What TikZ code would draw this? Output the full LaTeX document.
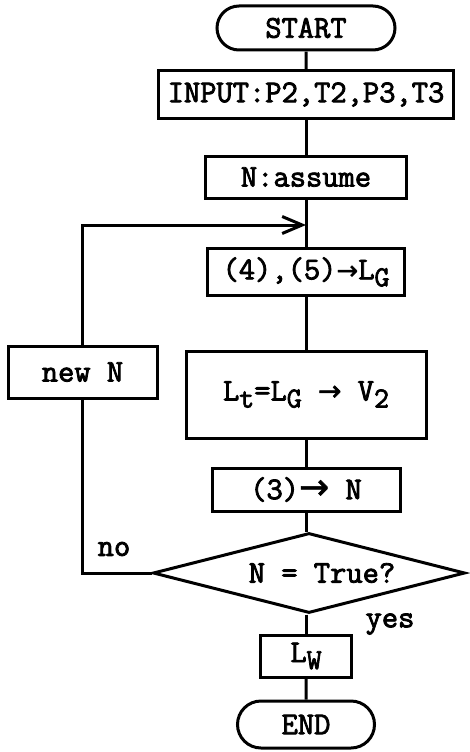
\documentclass[tikz,border=0pt]{standalone}
\usepackage{fontspec}
\setmonofont[FakeBold=2.6]{Latin Modern Mono}
\newfontfamily\arrowfont[FakeBold=1.5]{DejaVu Sans}
\usetikzlibrary{shapes.geometric,shapes.misc,arrows.meta}

% lowered subscript in the typewriter face
\newcommand\lsub[1]{\raisebox{-7pt}{\fontsize{29}{29}\selectfont #1}}
% heavy arrow of a given size
\newcommand\rarr[1]{{\fontsize{#1}{#1}\selectfont\arrowfont →}}

\begin{document}
\begin{tikzpicture}[x=1pt,y=1pt,
  every node/.style={font=\fontsize{31.6}{36}\selectfont\ttfamily, inner sep=0pt},
  box/.style={draw, rectangle, line width=3pt},
  term/.style={draw, rounded rectangle, line width=3pt},
  decision/.style={draw, diamond, line width=3pt, aspect=3.9},
  flow/.style={line width=3pt},
  tag/.style={font=\fontsize{31.6}{36}\selectfont\ttfamily}]
\fill[white] (0,0) rectangle (470,-752);
\useasboundingbox (0,0) rectangle (470,-752);

% main column
\node[term, minimum width=178pt, minimum height=44pt] (start) at (306,-28) {START};
\node[box, minimum width=295pt, minimum height=47pt] (input) at (306,-94.5) {INPUT:P2,T2,P3,T3};
\node[box, minimum width=201pt, minimum height=42pt] (assume) at (306,-177) {N:assume};
\coordinate (join) at (306,-225);
\node[box, minimum width=197pt, minimum height=47pt] (lg) at (306,-272) {(4),(5)\rarr{26}L\lsub{G}};
\node[box, minimum width=240pt, minimum height=87pt] (lt) at (306,-394.5) {L\lsub{t}=L\lsub{G} \rarr{28} V\lsub{2}};
\node[box, minimum width=188pt, minimum height=43pt] (three) at (306,-489.5) {(3)\rarr{36} N};
\node[decision, minimum width=312pt, minimum height=80pt] (dia) at (309,-573) {\hspace*{26pt}N = True?};
\node[box, minimum width=91pt, minimum height=42pt] (lw) at (306,-656) {L\lsub{W}};
\node[term, minimum width=137pt, minimum height=47pt] (end) at (306,-724.5) {END};

% loop-back branch
\node[box, minimum width=149pt, minimum height=52pt] (newN) at (82.5,-372) {new N};
\node[tag] (no) at (114,-549) {no};
\node[tag] (yes) at (390,-624) {yes};

% connectors
\draw[flow] (start) -- (input);
\draw[flow] (input) -- (assume);
\draw[flow] (assume) -- (lg);
\draw[flow] (lg) -- (lt);
\draw[flow] (lt) -- (three);
\draw[flow] (three) -- (three |- dia.north);
\draw[flow] (dia.south -| lw) -- (lw);
\draw[flow] (lw) -- (end);
\draw[flow] (dia.west) -| (newN.south);
\draw[flow, -{Straight Barb[length=20pt,width=17pt]}] (newN.north) |- (join);
\end{tikzpicture}
\end{document}
